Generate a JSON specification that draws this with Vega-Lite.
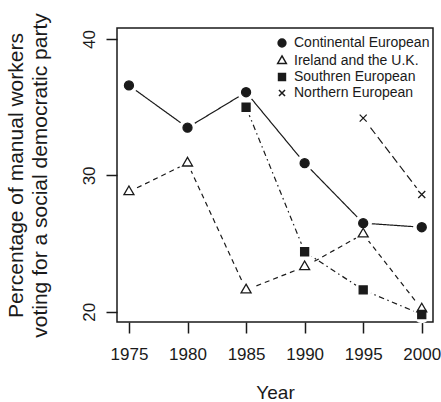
{
  "$schema": "https://vega.github.io/schema/vega-lite/v6.json",
  "width": 316,
  "height": 294,
  "autosize": {"type": "none"},
  "padding": {"left": 117, "top": 28, "right": 8, "bottom": 80},
  "background": "white",
  "config": {
    "font": "Liberation Sans",
    "view": {"stroke": "#1a1a1a", "strokeWidth": 1.5},
    "axis": {
      "domain": false,
      "grid": false,
      "tickColor": "#1a1a1a",
      "tickWidth": 1.5,
      "tickSize": 11,
      "labelColor": "#1a1a1a",
      "labelFontSize": 17,
      "titleColor": "#1a1a1a",
      "titleFontWeight": "normal"
    },
    "legend": {
      "labelFontSize": 14,
      "labelColor": "#1a1a1a",
      "padding": 0
    }
  },
  "data": {
    "values": [
      {"year": 1975, "pct": 36.6, "region": "Continental European"},
      {"year": 1980, "pct": 33.5, "region": "Continental European"},
      {"year": 1985, "pct": 36.1, "region": "Continental European"},
      {"year": 1990, "pct": 30.9, "region": "Continental European"},
      {"year": 1995, "pct": 26.5, "region": "Continental European"},
      {"year": 2000, "pct": 26.2, "region": "Continental European"},
      {"year": 1975, "pct": 28.8, "region": "Ireland and the U.K."},
      {"year": 1980, "pct": 30.9, "region": "Ireland and the U.K."},
      {"year": 1985, "pct": 21.6, "region": "Ireland and the U.K."},
      {"year": 1990, "pct": 23.3, "region": "Ireland and the U.K."},
      {"year": 1995, "pct": 25.7, "region": "Ireland and the U.K."},
      {"year": 2000, "pct": 20.2, "region": "Ireland and the U.K."},
      {"year": 1985, "pct": 35.0, "region": "Southren European"},
      {"year": 1990, "pct": 24.4, "region": "Southren European"},
      {"year": 1995, "pct": 21.6, "region": "Southren European"},
      {"year": 2000, "pct": 19.8, "region": "Southren European"},
      {"year": 1995, "pct": 34.2, "region": "Northern European"},
      {"year": 2000, "pct": 28.6, "region": "Northern European"}
    ]
  },
  "encoding": {
    "x": {
      "field": "year",
      "type": "quantitative",
      "scale": {"domain": [1973.98, 2000.96], "nice": false, "zero": false},
      "axis": {
        "values": [1975, 1980, 1985, 1990, 1995, 2000],
        "format": "d",
        "labelPadding": 13,
        "title": "Year",
        "titleFontSize": 19,
        "titleY": 61
      }
    },
    "y": {
      "field": "pct",
      "type": "quantitative",
      "scale": {"domain": [19.25, 40.81], "nice": false, "zero": false},
      "axis": {
        "values": [20, 30, 40],
        "labelAngle": -90,
        "labelAlign": "center",
        "labelBaseline": "alphabetic",
        "labelPadding": 12,
        "title": ["Percentage of manual workers", "voting for a social democratic party"],
        "titleFontSize": 21,
        "titleLineHeight": 24,
        "titleAngle": -90,
        "titleAlign": "center",
        "titleBaseline": "top",
        "titleX": -112,
        "titleY": 147
      }
    }
  },
  "layer": [
    {
      "mark": {"type": "line", "stroke": "#1a1a1a", "strokeWidth": 1.2},
      "encoding": {
        "detail": {"field": "region"},
        "strokeDash": {
          "field": "region",
          "type": "nominal",
          "scale": {
            "domain": ["Northern European", "Southren European", "Ireland and the U.K.", "Continental European"],
            "range": [[8, 4], [1.5, 3.5, 5.5, 3.5], [5, 4], [1, 0]]
          },
          "legend": null
        }
      }
    },
    {
      "mark": {"type": "point", "shape": "circle", "filled": true, "fill": "white", "opacity": 1, "size": 300},
      "encoding": {}
    },
    {
      "mark": {"type": "point", "filled": true, "opacity": 1, "size": 100, "stroke": "#1a1a1a", "strokeWidth": 1.3},
      "encoding": {
        "shape": {
          "field": "region",
          "type": "nominal",
          "scale": {
            "domain": ["Continental European", "Ireland and the U.K.", "Southren European", "Northern European"],
            "range": [
              "M-0.9,0A0.9,0.9 0 1,0 0.9,0A0.9,0.9 0 1,0 -0.9,0Z",
              "M0,-1.155L1,0.577L-1,0.577Z",
              "M-0.8,-0.8L0.8,-0.8L0.8,0.8L-0.8,0.8Z",
              "M-0.7,-0.7L0.7,0.7M0.7,-0.7L-0.7,0.7"
            ]
          },
          "legend": {
            "title": null,
            "orient": "none",
            "legendX": 158,
            "legendY": 8,
            "labelOffset": 5,
            "rowPadding": 2,
            "symbolSize": 75,
            "encode": {
              "symbols": {
                "update": {
                  "stroke": {"value": "#1a1a1a"},
                  "strokeWidth": {"value": 1.2},
                  "opacity": {"value": 1}
                }
              }
            }
          }
        },
        "fill": {
          "field": "region",
          "type": "nominal",
          "scale": {
            "domain": ["Continental European", "Ireland and the U.K.", "Southren European", "Northern European"],
            "range": ["#1a1a1a", "white", "#1a1a1a", "transparent"]
          },
          "legend": {
            "title": null,
            "orient": "none",
            "legendX": 158,
            "legendY": 8,
            "labelOffset": 5,
            "rowPadding": 2,
            "symbolSize": 75,
            "encode": {
              "symbols": {
                "update": {
                  "stroke": {"value": "#1a1a1a"},
                  "strokeWidth": {"value": 1.2},
                  "opacity": {"value": 1}
                }
              }
            }
          }
        }
      }
    }
  ]
}
